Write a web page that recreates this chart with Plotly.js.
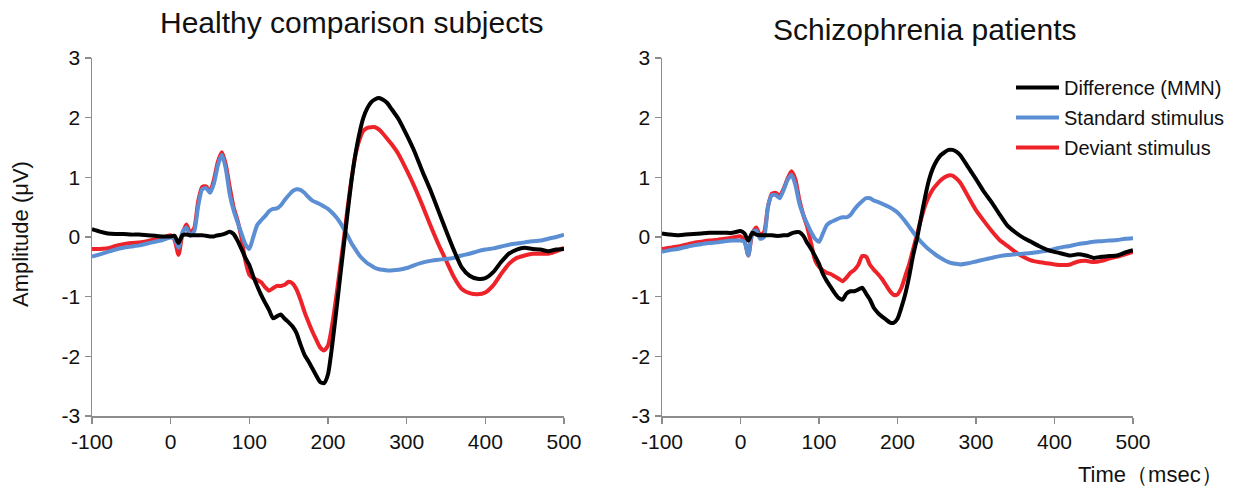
<!DOCTYPE html>
<html>
<head>
<meta charset="utf-8">
<script src="https://cdn.plot.ly/plotly-3.0.1.min.js"></script>
<style>html,body{margin:0;padding:0;background:#fff;}#chart{width:1236px;height:486px;}</style>
</head>
<body>
<div id="chart"></div>
<script>
// Time points (msec)
const timeMs = [-100,-90,-80,-70,-60,-50,-40,-30,-20,-10,
  0,5,10,15,20,25,30,35,40,45,50,55,60,65,70,75,80,85,90,95,
  100,105,110,115,120,125,130,135,140,145,150,155,160,165,170,175,180,185,190,195,
  200,205,210,215,220,225,230,235,240,245,250,255,260,265,270,275,280,
  290,300,310,320,330,340,350,360,370,380,390,400,410,420,430,440,450,460,470,480,490,500];

// Healthy comparison subjects
const healthyDifference = [0.13,0.09,0.06,0.05,0.05,0.04,0.04,0.03,0.02,0.01,
  0.01,0.02,-0.10,0.03,0.04,0.03,0.03,0.03,0.03,0.02,0.01,0.01,0.03,0.04,0.06,0.09,0.05,-0.06,-0.20,-0.35,
  -0.47,-0.66,-0.82,-0.97,-1.10,-1.22,-1.36,-1.33,-1.30,-1.37,-1.43,-1.50,-1.61,-1.80,-1.97,-2.08,-2.20,-2.32,-2.43,-2.45,
  -2.30,-1.85,-1.30,-0.72,-0.15,0.42,0.96,1.40,1.74,2.00,2.16,2.26,2.31,2.33,2.30,2.25,2.16,
  1.97,1.71,1.43,1.10,0.79,0.45,0.11,-0.22,-0.51,-0.65,-0.70,-0.69,-0.59,-0.42,-0.28,-0.21,-0.18,-0.20,-0.21,-0.24,-0.21,-0.20];
const healthyStandard = [-0.33,-0.29,-0.25,-0.21,-0.18,-0.16,-0.14,-0.11,-0.08,-0.05,
  -0.01,-0.03,-0.18,0.08,0.16,0.02,0.10,0.52,0.80,0.82,0.74,0.90,1.20,1.38,1.15,0.72,0.45,0.25,0.06,-0.12,
  -0.20,0.00,0.20,0.28,0.35,0.43,0.47,0.48,0.53,0.62,0.70,0.77,0.80,0.79,0.74,0.67,0.61,0.58,0.55,0.51,
  0.47,0.41,0.34,0.25,0.14,0.02,-0.11,-0.21,-0.31,-0.38,-0.44,-0.48,-0.52,-0.54,-0.55,-0.56,-0.56,
  -0.55,-0.52,-0.47,-0.43,-0.40,-0.38,-0.37,-0.35,-0.31,-0.28,-0.24,-0.21,-0.19,-0.16,-0.13,-0.11,-0.09,-0.07,-0.06,-0.03,0.00,0.04];
const healthyDeviant = [-0.20,-0.20,-0.19,-0.15,-0.12,-0.10,-0.09,-0.07,-0.04,-0.01,
  0.03,-0.05,-0.30,0.05,0.21,0.07,0.15,0.60,0.84,0.85,0.76,0.96,1.26,1.42,1.22,0.84,0.50,0.28,-0.02,-0.40,
  -0.63,-0.69,-0.72,-0.76,-0.84,-0.90,-0.86,-0.82,-0.82,-0.80,-0.75,-0.78,-0.88,-1.05,-1.25,-1.42,-1.58,-1.72,-1.85,-1.90,
  -1.82,-1.50,-1.05,-0.55,-0.05,0.50,0.98,1.38,1.63,1.78,1.83,1.84,1.84,1.80,1.73,1.65,1.57,
  1.38,1.12,0.84,0.53,0.20,-0.11,-0.39,-0.67,-0.87,-0.94,-0.96,-0.93,-0.81,-0.62,-0.45,-0.35,-0.31,-0.28,-0.28,-0.28,-0.24,-0.18];

// Schizophrenia patients
const patientDifference = [0.06,0.04,0.03,0.04,0.05,0.06,0.07,0.07,0.07,0.07,
  0.10,0.06,-0.06,0.07,0.04,0.03,0.03,0.03,0.03,0.02,0.02,0.03,0.03,0.06,0.08,0.08,0.02,-0.10,-0.20,-0.32,
  -0.45,-0.62,-0.74,-0.84,-0.94,-1.02,-1.05,-0.95,-0.91,-0.91,-0.88,-0.85,-0.95,-1.05,-1.19,-1.27,-1.33,-1.38,-1.43,-1.44,
  -1.37,-1.18,-0.95,-0.65,-0.30,-0.02,0.33,0.66,0.95,1.15,1.28,1.37,1.42,1.46,1.46,1.43,1.37,
  1.17,0.97,0.76,0.58,0.38,0.19,0.08,-0.01,-0.08,-0.15,-0.21,-0.25,-0.28,-0.31,-0.29,-0.31,-0.35,-0.33,-0.32,-0.31,-0.26,-0.22];
const patientStandard = [-0.25,-0.22,-0.20,-0.17,-0.14,-0.12,-0.10,-0.09,-0.07,-0.06,
  -0.06,-0.08,-0.31,0.08,0.11,-0.03,0.00,0.51,0.70,0.70,0.65,0.79,0.96,1.04,0.87,0.56,0.37,0.22,0.08,-0.03,
  -0.08,0.06,0.20,0.25,0.28,0.31,0.33,0.33,0.37,0.46,0.54,0.60,0.65,0.65,0.61,0.59,0.56,0.53,0.50,0.46,
  0.41,0.34,0.26,0.17,0.08,-0.01,-0.08,-0.15,-0.21,-0.26,-0.31,-0.35,-0.39,-0.42,-0.44,-0.45,-0.46,
  -0.44,-0.41,-0.38,-0.35,-0.32,-0.30,-0.29,-0.28,-0.27,-0.25,-0.23,-0.20,-0.17,-0.15,-0.12,-0.10,-0.08,-0.07,-0.06,-0.05,-0.03,-0.02];
const patientDeviant = [-0.20,-0.18,-0.16,-0.13,-0.10,-0.08,-0.06,-0.05,-0.03,-0.01,
  0.01,-0.06,-0.31,0.06,0.16,0.03,0.08,0.51,0.73,0.74,0.69,0.81,0.98,1.10,0.96,0.62,0.37,0.17,-0.11,-0.39,
  -0.50,-0.56,-0.60,-0.62,-0.66,-0.70,-0.74,-0.68,-0.60,-0.55,-0.47,-0.32,-0.33,-0.47,-0.55,-0.62,-0.70,-0.80,-0.90,-0.97,
  -0.96,-0.85,-0.65,-0.45,-0.20,0.05,0.30,0.52,0.68,0.80,0.88,0.95,1.00,1.03,1.03,0.98,0.91,
  0.68,0.45,0.27,0.10,-0.05,-0.15,-0.25,-0.33,-0.39,-0.42,-0.44,-0.46,-0.47,-0.46,-0.41,-0.40,-0.42,-0.40,-0.36,-0.33,-0.29,-0.25];

// Labels
const panelTitles = ["Healthy comparison subjects", "Schizophrenia patients"];
const seriesNames = ["Difference (MMN)", "Standard stimulus", "Deviant stimulus"];
const xTickVals = [-100, 0, 100, 200, 300, 400, 500];
const xTickText = ["-100", "0", "100", "200", "300", "400", "500"];
const yTickVals = [-3, -2, -1, 0, 1, 2, 3];
const yTickText = ["-3", "-2", "-1", "0", "1", "2", "3"];
const yAxisTitle = "Amplitude (\u03bcV)";
const xAxisTitle = "Time\uff08msec\uff09";

const FONT = '"Liberation Sans", Arial, sans-serif';
const colors = {diff: "#000000", std: "#5b8ed3", dev: "#ee2229"};

function mk(y, name, color, xa, ya, show, rank) {
  return {x: timeMs, y: y, name: name, type: "scatter", mode: "lines",
    line: {color: color, width: 4, shape: "spline", smoothing: 0.6},
    xaxis: xa, yaxis: ya, showlegend: show, legendrank: rank, legendgroup: "g" + rank, hoverinfo: "skip"};
}

const data = [
  mk(healthyDeviant, seriesNames[2], colors.dev, "x", "y", false, 3),
  mk(healthyStandard, seriesNames[1], colors.std, "x", "y", false, 2),
  mk(healthyDifference, seriesNames[0], colors.diff, "x", "y", false, 1),
  mk(patientDeviant, seriesNames[2], colors.dev, "x2", "y2", true, 3),
  mk(patientStandard, seriesNames[1], colors.std, "x2", "y2", true, 2),
  mk(patientDifference, seriesNames[0], colors.diff, "x2", "y2", true, 1)
];

const W = 1236, H = 486;
function xaxisDef(d0, d1, anchor) {
  return {domain: [d0 / W, d1 / W], anchor: anchor, range: [-100, 500], tickmode: "array",
    tickvals: xTickVals, ticktext: xTickText, ticks: "outside", ticklen: 6, tickwidth: 1.5,
    tickcolor: "#8c8c8c", showline: true, linecolor: "#8c8c8c", linewidth: 1.5,
    showgrid: false, zeroline: false, tickfont: {family: FONT, size: 21, color: "#111"}};
}
function yaxisDef(anchor) {
  return {domain: [(H - 416) / H, (H - 58) / H], anchor: anchor, range: [-3, 3], tickmode: "array",
    tickvals: yTickVals, ticktext: yTickText, ticks: "outside", ticklen: 6, tickwidth: 1.5,
    tickcolor: "#8c8c8c", showline: true, linecolor: "#8c8c8c", linewidth: 1.5,
    showgrid: false, zeroline: false, tickfont: {family: FONT, size: 21, color: "#111"}};
}

const layout = {
  width: W, height: H,
  margin: {l: 0, r: 0, t: 0, b: 0},
  paper_bgcolor: "#fff", plot_bgcolor: "#fff",
  xaxis: xaxisDef(92, 564, "y"),
  yaxis: yaxisDef("x"),
  xaxis2: xaxisDef(662, 1133, "y2"),
  yaxis2: yaxisDef("x2"),
  showlegend: true,
  legend: {x: 1011 / W, xanchor: "left", y: (H - 68) / H, yanchor: "top",
    font: {family: FONT, size: 20, color: "#111"}, bgcolor: "rgba(0,0,0,0)",
    itemwidth: 43, tracegroupgap: 1},
  annotations: [
    {text: panelTitles[0], xref: "paper", yref: "paper", x: 352 / W, y: (H - 23) / H,
      xanchor: "center", yanchor: "middle", showarrow: false, font: {family: FONT, size: 30, color: "#111"}},
    {text: panelTitles[1], xref: "paper", yref: "paper", x: 925 / W, y: (H - 29) / H,
      xanchor: "center", yanchor: "middle", showarrow: false, font: {family: FONT, size: 30, color: "#111"}},
    {text: xAxisTitle, xref: "paper", yref: "paper", x: 1150 / W, y: (H - 474) / H,
      xanchor: "center", yanchor: "middle", showarrow: false, font: {family: FONT, size: 22, color: "#111"}},
    {text: yAxisTitle, xref: "paper", yref: "paper", x: 20 / W, y: (H - 234) / H, textangle: -90,
      xanchor: "center", yanchor: "middle", showarrow: false, font: {family: FONT, size: 22, color: "#111"}}
  ]
};

Plotly.newPlot("chart", data, layout, {displayModeBar: false, staticPlot: true});
</script>
</body>
</html>
